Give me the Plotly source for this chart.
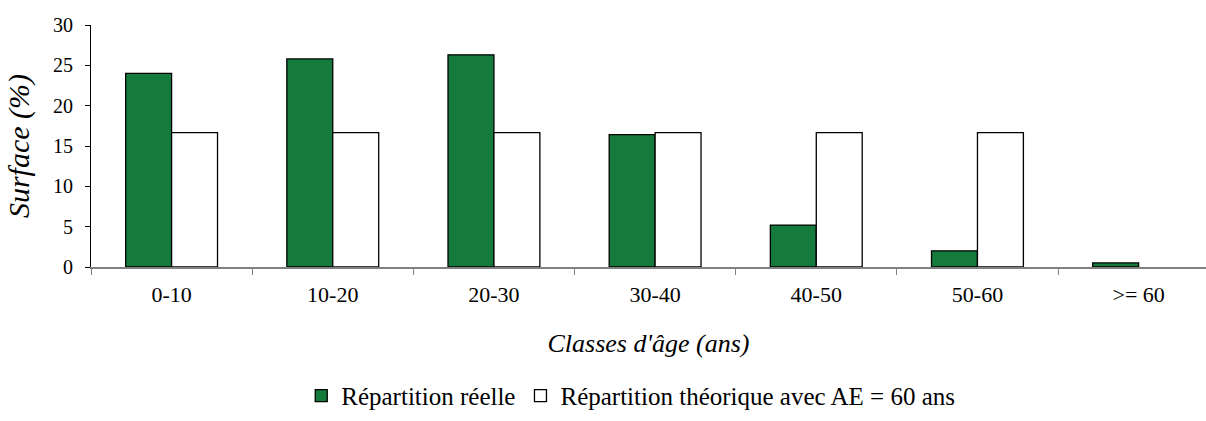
import plotly.graph_objects as go

# Age classes and surface shares (%)
classes = ["0-10", "10-20", "20-30", "30-40", "40-50", "50-60", ">= 60"]
reelle = [24.0, 25.8, 26.3, 16.4, 5.2, 2.0, 0.5]
theorique = [16.67, 16.67, 16.67, 16.67, 16.67, 16.67, None]
yticks = [0, 5, 10, 15, 20, 25, 30]

serif = "Liberation Serif"

fig = go.Figure()
fig.add_trace(go.Bar(
    x=classes, y=reelle, name="Répartition réelle",
    marker=dict(color="#157B3D", line=dict(color="black", width=1.3)),
))
fig.add_trace(go.Bar(
    x=classes, y=theorique, name="Répartition théorique avec AE = 60 ans",
    marker=dict(color="white", line=dict(color="black", width=1.3)),
))

fig.update_layout(
    width=1206, height=421,
    margin=dict(l=91, r=0, t=25, b=154),
    paper_bgcolor="white", plot_bgcolor="white",
    barmode="group", bargap=0.43, bargroupgap=0,
    font=dict(family=serif, size=20, color="black"),
    showlegend=True,
    legend=dict(orientation="h", x=0.523, xanchor="center", xref="container",
                y=0.005, yanchor="bottom", yref="container",
                font=dict(family=serif, size=25), itemwidth=30,
                traceorder="normal", bgcolor="rgba(0,0,0,0)"),
)
fig.update_xaxes(
    type="category", range=[-0.5, 6.418],
    showline=True, linecolor="#808080", linewidth=1.5,
    ticks="outside", tickson="boundaries", ticklen=6, tickcolor="#808080",
    ticklabelstandoff=7,
    tickfont=dict(family=serif, size=22), showgrid=False,
    title=dict(text="<i>Classes d'âge (ans)</i>", font=dict(family=serif, size=26),
               standoff=28),
)
fig.update_yaxes(
    range=[0, 30], tickvals=yticks, ticktext=[str(v) for v in yticks],
    showline=True, linecolor="black", linewidth=1, ticks="outside", ticklen=5,
    tickcolor="black", showgrid=False, zeroline=False, ticklabelstandoff=8,
    tickfont=dict(family=serif, size=20),
    title=dict(text="<i>Surface (%)</i>", font=dict(family=serif, size=30), standoff=14),
)

fig.write_html("out.html")
